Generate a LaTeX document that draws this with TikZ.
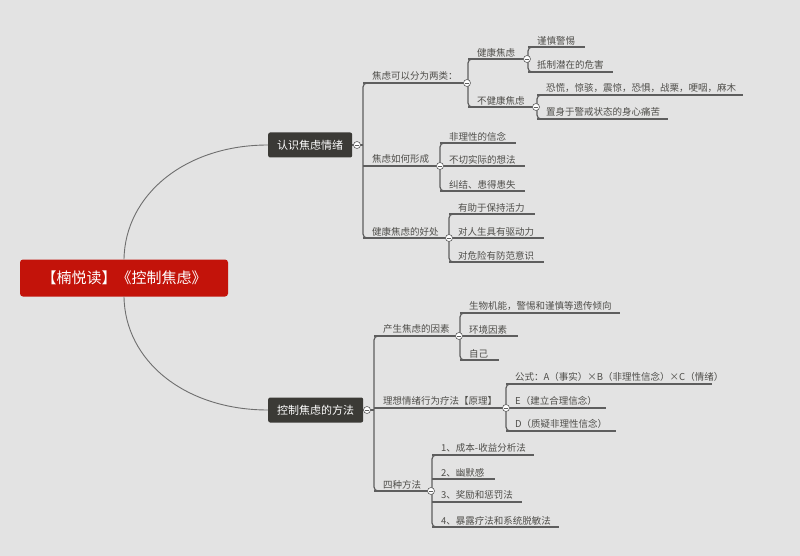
\documentclass[tikz,border=0pt]{standalone}
\usepackage{fontspec}
\setmainfont{Noto Sans CJK SC}
\usetikzlibrary{positioning}
\definecolor{bgray}{HTML}{E3E3E3}
\definecolor{ink}{HTML}{3B3A36}
\definecolor{lineg}{HTML}{5E5E5E}
\definecolor{rootred}{HTML}{C3130A}
\tikzset{
  ln/.style={draw=lineg, line width=1.2pt},
  curve/.style={draw=lineg!90, line width=0.9pt},
  topic/.style={fill=ink, text=white, rounded corners=2pt, font=\fontsize{11}{13}\selectfont, inner xsep=9pt, minimum height=25pt},
  leaf/.style={anchor=south west, inner sep=2pt, text=ink!90, font=\fontsize{9.5}{11}\selectfont},
  dot/.style={circle, draw=lineg, fill=white, line width=0.6pt, minimum size=7pt, inner sep=0pt,
    path picture={\draw[lineg, line width=0.8pt] ([xshift=1.6pt]path picture bounding box.west) -- ([xshift=-1.6pt]path picture bounding box.east);}}
}
% #1 x of the fan, #2 top, #3 bottom, #4 list y/end/text
\newcommand\fan[4]{%
  \draw[ln, rounded corners=4pt] (#1+8,#2) -- (#1,#2) -- (#1,#3) -- (#1+8,#3);
  \foreach \y/\e/\t in {#4}{
    \draw[ln] (#1,\y) -- (\e,\y);
    \node[leaf] at (#1+7,\y) {\t};
  }}
\begin{document}
\begin{tikzpicture}[x=1pt, y=-1pt]
  \fill[bgray] (0,0) rectangle (800,556);
  \useasboundingbox (0,0) rectangle (800,556);

  \node[fill=rootred, text=white, rounded corners=3pt, minimum width=208pt, minimum height=37pt,
        font=\fontsize{15}{17}\selectfont] (root) at (124,278) {【楠悦读】《控制焦虑》};
  \node[topic, anchor=west] (know) at (268,145) {认识焦虑情绪};
  \node[topic, anchor=west] (ctrl) at (268,410) {控制焦虑的方法};
  \draw[curve] (root.north) .. controls (125,195) and (185,145) .. (know.west);
  \draw[curve] (root.south) .. controls (125,361) and (185,410) .. (ctrl.west);

  % first main topic
  \draw[ln] (know.east) -- (363,145);
  \fan{363}{83}{238}{83/467/焦虑可以分为两类：, 166/440/焦虑如何形成, 238/449/健康焦虑的好处}
  \fan{468}{59}{107}{59/527/健康焦虑, 107/536/不健康焦虑}
  \fan{528}{47}{72}{47/585/谨慎警惕, 72/613/抵制潜在的危害}
  \fan{537}{95}{119}{95/743/恐慌，惊骇，震惊，恐惧，战栗，哽咽，麻木, 119/668/置身于警戒状态的身心痛苦}
  \fan{440}{143}{191}{143/516/非理性的信念, 166/525/不切实际的想法, 191/525/纠结、患得患失}
  \fan{449}{214}{262}{214/535/有助于保持活力, 238/544/对人生具有驱动力, 262/544/对危险有防范意识}
  \foreach \p in {(357,145),(467,83),(527,59),(536,107),(440,166),(449,238)}
    \node[dot] at \p {};

  % second main topic
  \draw[ln] (ctrl.east) -- (374,410);
  \fan{374}{336}{491}{336/459/产生焦虑的因素, 408/506/理想情绪行为疗法【原理】, 491/431/四种方法}
  \fan{460}{313}{360}{313/620/生物机能，警惕和谨慎等遗传倾向, 336/518/环境因素, 360/499/自己}
  \fan{506}{384}{431}{384/712/{公式：A（事实）×B（非理性信念）×C（情绪）}, 408/606/E（建立合理信念）, 431/616/D（质疑非理性信念）}
  \fan{432}{455}{527}{455/534/1、成本-收益分析法, 479/495/2、幽默感, 502/522/3、奖励和惩罚法, 527/559/4、暴露疗法和系统脱敏法}
  \foreach \p in {(367,410),(459,336),(506,408),(431,491)}
    \node[dot] at \p {};
\end{tikzpicture}
\end{document}
